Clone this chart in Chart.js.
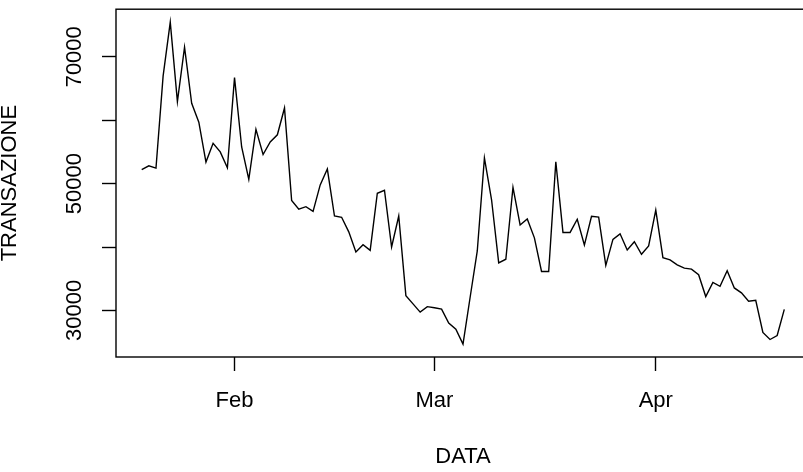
<!DOCTYPE html>
<html>
<head>
<meta charset="utf-8">
<script src="https://cdn.jsdelivr.net/npm/chart.js@4.4.1/dist/chart.umd.min.js"></script>
<style>
  html, body { margin: 0; padding: 0; background: #ffffff; overflow: hidden; }
  #wrap { position: relative; width: 820px; height: 472px; }
</style>
</head>
<body>
<div id="wrap"><canvas id="c"></canvas></div>
<script>
// Daily dates (Jan 19 – Apr 19)
const dates = [
  '2019-01-19','2019-01-20','2019-01-21','2019-01-22','2019-01-23','2019-01-24','2019-01-25','2019-01-26','2019-01-27','2019-01-28','2019-01-29','2019-01-30','2019-01-31',
  '2019-02-01','2019-02-02','2019-02-03','2019-02-04','2019-02-05','2019-02-06','2019-02-07','2019-02-08','2019-02-09','2019-02-10','2019-02-11','2019-02-12','2019-02-13','2019-02-14',
  '2019-02-15','2019-02-16','2019-02-17','2019-02-18','2019-02-19','2019-02-20','2019-02-21','2019-02-22','2019-02-23','2019-02-24','2019-02-25','2019-02-26','2019-02-27','2019-02-28',
  '2019-03-01','2019-03-02','2019-03-03','2019-03-04','2019-03-05','2019-03-06','2019-03-07','2019-03-08','2019-03-09','2019-03-10','2019-03-11','2019-03-12','2019-03-13','2019-03-14',
  '2019-03-15','2019-03-16','2019-03-17','2019-03-18','2019-03-19','2019-03-20','2019-03-21','2019-03-22','2019-03-23','2019-03-24','2019-03-25','2019-03-26','2019-03-27','2019-03-28',
  '2019-03-29','2019-03-30','2019-03-31',
  '2019-04-01','2019-04-02','2019-04-03','2019-04-04','2019-04-05','2019-04-06','2019-04-07','2019-04-08','2019-04-09','2019-04-10','2019-04-11','2019-04-12','2019-04-13','2019-04-14',
  '2019-04-15','2019-04-16','2019-04-17','2019-04-18','2019-04-19'
];
// TRANSAZIONE values
const transazione = [
  52200, 52800, 52450, 66980, 75470, 62920, 71520, 62660, 59690, 53390, 56360, 55000, 52500,
  66720, 55780, 50670, 58550, 54580, 56560, 57700, 61920, 47340, 45980, 46360, 45630, 49800, 52300,
  44890, 44690, 42390, 39220, 40360, 39480, 48480, 48950, 40000, 44890, 32340, 31040, 29740, 30600,
  30420, 30200, 28020, 27030, 24690, 32080, 39380, 54060, 47450, 37500, 38080, 49420, 43480, 44420,
  41450, 36140, 36140, 53440, 42300, 42300, 44380, 40310, 44840, 44730, 37100, 41200, 42080, 39530,
  40830, 38860, 40160,
  45830, 38330, 37970, 37190, 36670, 36520, 35630, 32190, 34420, 33800, 36250, 33550, 32770, 31450,
  31610, 26520, 25420, 26050, 30160
];
// Axis ticks
const xTickDates = ['2019-02-01', '2019-03-01', '2019-04-01'];
const xTickLabels = ['Feb', 'Mar', 'Apr'];
const yTicks = [30000, 40000, 50000, 60000, 70000];
const yTickLabels = ['30000', '', '50000', '', '70000'];

const dayNum = s => {
  const [y, m, d] = s.split('-').map(Number);
  return (Date.UTC(y, m - 1, d) - Date.UTC(y, 0, 1)) / 86400000;
};
const xs = dates.map(dayNum);
const xTickVals = xTickDates.map(dayNum);
const points = xs.map((x, i) => ({ x: x, y: transazione[i] }));

// R-style 4% axis extension
const ext = (lo, hi) => [lo - 0.04 * (hi - lo), hi + 0.04 * (hi - lo)];
const [xMin, xMax] = ext(Math.min(...xs), Math.max(...xs));
const [yMin, yMax] = ext(Math.min(...transazione), Math.max(...transazione));

const FONT = { family: "'Liberation Sans', Arial, sans-serif", size: 22 };
const LW = 1.4;

const boxPlugin = {
  id: 'box',
  afterDraw(chart) {
    const a = chart.chartArea, ctx = chart.ctx;
    ctx.save();
    ctx.strokeStyle = '#000';
    ctx.lineWidth = LW;
    ctx.strokeRect(a.left, a.top, a.right - a.left, a.bottom - a.top);
    ctx.restore();
  }
};

new Chart(document.getElementById('c'), {
  type: 'line',
  data: {
    datasets: [{
      data: points,
      borderColor: '#000',
      borderWidth: LW,
      pointRadius: 0,
      tension: 0,
      fill: false
    }]
  },
  options: {
    responsive: true,
    maintainAspectRatio: false,
    animation: false,
    layout: { padding: { left: 0, right: 10, top: 5, bottom: 0 } },
    plugins: { legend: { display: false }, tooltip: { enabled: false } },
    scales: {
      x: {
        type: 'linear',
        min: xMin, max: xMax,
        afterBuildTicks: s => { s.ticks = xTickVals.map(v => ({ value: v })); },
        afterFit: s => { s.height = 115; },
        border: { display: false },
        grid: { display: true, drawOnChartArea: false, drawTicks: true, tickLength: 14, tickColor: '#000', tickWidth: LW },
        ticks: {
          autoSkip: false, maxRotation: 0, minRotation: 0,
          color: '#000', font: FONT, padding: 17,
          callback: v => xTickLabels[xTickVals.indexOf(v)] ?? ''
        },
        title: { display: true, text: 'DATA', color: '#000', font: FONT, padding: { top: 0, bottom: 2 } }
      },
      y: {
        type: 'linear',
        min: yMin, max: yMax,
        afterBuildTicks: s => { s.ticks = yTicks.map(v => ({ value: v })); },
        afterFit: s => { s.width = 116; },
        border: { display: false },
        grid: { display: true, drawOnChartArea: false, drawTicks: true, tickLength: 14, tickColor: '#000', tickWidth: LW },
        ticks: {
          autoSkip: false, minRotation: 90, maxRotation: 90,
          crossAlign: 'center',
          color: '#000', font: FONT, padding: -4,
          callback: v => yTickLabels[yTicks.indexOf(v)] ?? ''
        },
        title: { display: true, text: 'TRANSAZIONE', color: '#000', font: FONT, padding: { top: -3, bottom: 0 } }
      }
    }
  },
  plugins: [boxPlugin]
});
</script>
</body>
</html>
